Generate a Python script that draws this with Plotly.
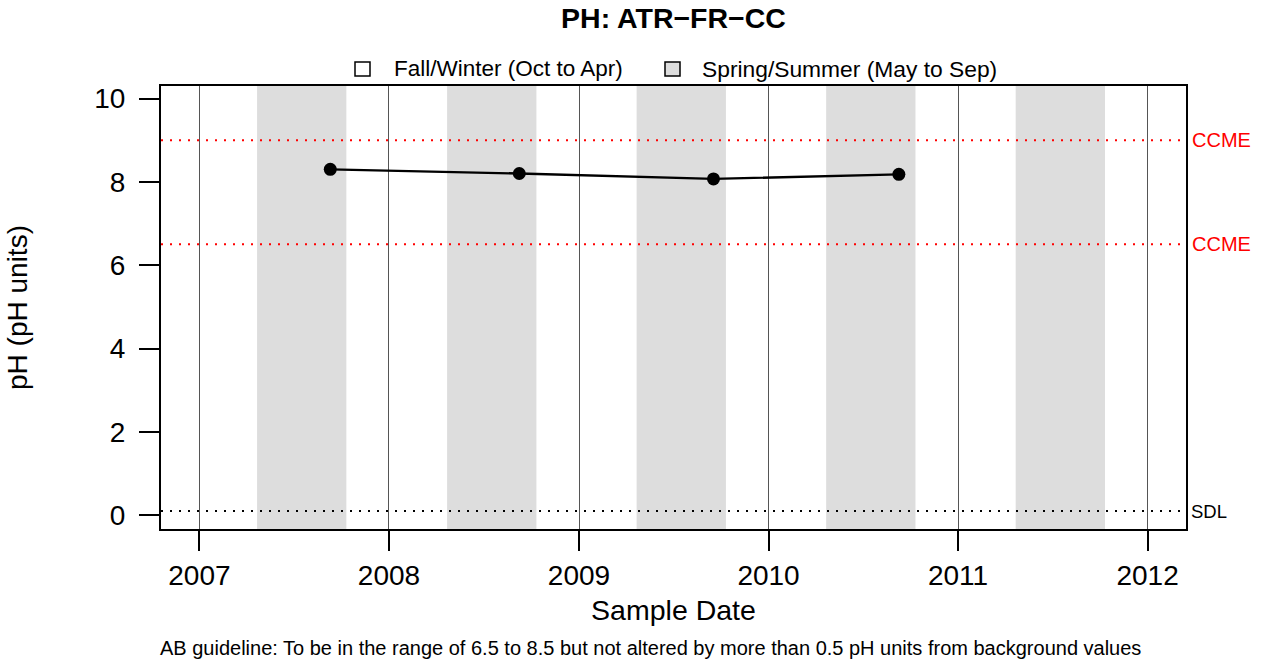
import plotly.graph_objects as go

# pH samples at station ATR-FR-CC
sample_dates = ["2007-09-10", "2008-09-08", "2009-09-17", "2010-09-09"]
ph_values = [8.30, 8.20, 8.07, 8.18]

# Spring/Summer shading periods
season_years = [2007, 2008, 2009, 2010, 2011]
season_start_md = "04-22"
season_end_md = "10-11"

# Guideline reference lines
ccme_limits = [9.0, 6.5]
sdl_value = 0.1

year_ticks = [2007, 2008, 2009, 2010, 2011, 2012]

FONT = "Liberation Sans, Arial, Helvetica, sans-serif"

fig = go.Figure()

fig.add_trace(go.Scatter(
    x=sample_dates, y=ph_values, mode="lines+markers",
    line=dict(color="black", width=2.3),
    marker=dict(color="black", size=13),
    showlegend=False, hoverinfo="x+y",
))

shapes = []
for yr in season_years:
    shapes.append(dict(
        type="rect", xref="x", yref="paper", layer="below",
        x0=f"{yr}-{season_start_md}", x1=f"{yr}-{season_end_md}", y0=0, y1=1,
        fillcolor="#dddddd", line=dict(width=0),
    ))

for v in ccme_limits:
    shapes.append(dict(
        type="line", xref="paper", yref="y", x0=0, x1=1, y0=v, y1=v,
        line=dict(color="red", width=2, dash="2px,7px"),
    ))
shapes.append(dict(
    type="line", xref="paper", yref="y", x0=0, x1=1, y0=sdl_value, y1=sdl_value,
    line=dict(color="black", width=2, dash="2px,7px"),
))

# legend swatches
shapes.append(dict(type="rect", xref="paper", yref="paper",
                   x0=(355 - 161) / 1025, x1=(370 - 161) / 1025,
                   y0=(529 - 76) / 443, y1=(529 - 62) / 443,
                   fillcolor="white", line=dict(color="black", width=1.5)))
shapes.append(dict(type="rect", xref="paper", yref="paper",
                   x0=(665 - 161) / 1025, x1=(680 - 161) / 1025,
                   y0=(529 - 76) / 443, y1=(529 - 62) / 443,
                   fillcolor="#dddddd", line=dict(color="black", width=1.5)))

annotations = []
for v in ccme_limits:
    annotations.append(dict(
        x=1, xref="paper", y=v, yref="y", text="CCME", showarrow=False,
        xanchor="left", xshift=4, font=dict(color="red", size=20, family=FONT),
    ))
annotations.append(dict(
    x=1, xref="paper", y=sdl_value, yref="y", text="SDL", showarrow=False,
    xanchor="left", xshift=3, font=dict(color="black", size=18.5, family=FONT),
))
annotations.append(dict(
    x=(392 - 161) / 1025, xref="paper", y=(529 - 69) / 443, yref="paper",
    text="Fall/Winter (Oct to Apr)", showarrow=False, xanchor="left", yanchor="middle",
    font=dict(size=22.5, family=FONT, color="black"),
))
annotations.append(dict(
    x=(700 - 161) / 1025, xref="paper", y=(529 - 69) / 443, yref="paper",
    text="Spring/Summer (May to Sep)", showarrow=False, xanchor="left", yanchor="middle",
    font=dict(size=22.8, family=FONT, color="black"),
))
annotations.append(dict(
    x=(650 - 161) / 1025, xref="paper", y=(529 - 648) / 443, yref="paper",
    text="AB guideline: To be in the range of 6.5 to 8.5 but not altered by more than 0.5 pH units from background values",
    showarrow=False, xanchor="center", yanchor="middle",
    font=dict(size=20, family=FONT, color="black"),
))

fig.update_layout(
    width=1261, height=664,
    margin=dict(l=161, r=75, t=86, b=135),
    paper_bgcolor="white", plot_bgcolor="white",
    font=dict(family=FONT, color="black"),
    title=dict(text="<b>PH: ATR\u2212FR\u2212CC</b>", x=(161 + 1186) / 2 / 1261,
               xanchor="center", y=1 - 18 / 664, yanchor="middle",
               font=dict(size=28.5, family=FONT, color="black")),
    shapes=shapes, annotations=annotations,
    showlegend=False,
)

fig.update_xaxes(
    type="date", range=["2006-10-19", "2012-03-15"],
    tickvals=[f"{y}-01-01" for y in year_ticks],
    ticktext=[str(y) for y in year_ticks],
    showgrid=True, gridcolor="#555555", gridwidth=1,
    zeroline=False, showline=True, linecolor="black", linewidth=2, mirror=True,
    ticks="outside", ticklen=20, tickwidth=2, tickcolor="black",
    tickfont=dict(size=28, family=FONT, color="black"),
    title=dict(text="Sample Date", font=dict(size=28.5, family=FONT, color="black"), standoff=10),
)
fig.update_yaxes(
    range=[-0.33, 10.30],
    tickvals=[0, 2, 4, 6, 8, 10],
    showgrid=False, zeroline=False,
    showline=True, linecolor="black", linewidth=2, mirror=True,
    ticks="outside", ticklen=20, tickwidth=2, tickcolor="black",
    tickfont=dict(size=28, family=FONT, color="black"),
    ticklabelstandoff=8,
    title=dict(text="pH (pH units)", font=dict(size=28, family=FONT, color="black"), standoff=58),
)

fig.write_html("out.html")
